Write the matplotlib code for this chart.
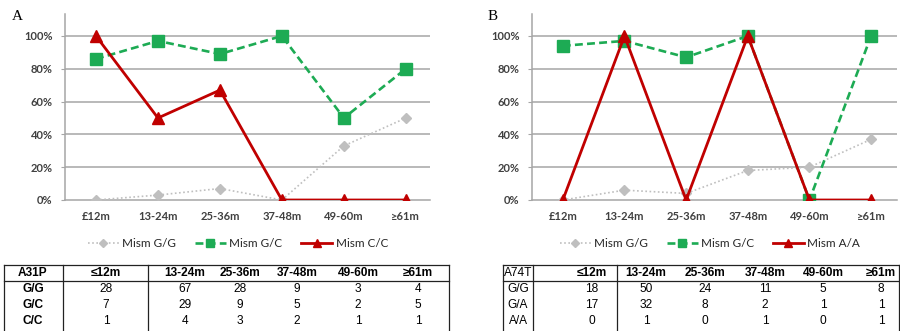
import matplotlib
matplotlib.use("Agg")
import matplotlib.pyplot as plt
from matplotlib.lines import Line2D
import numpy as np

# chart data (percent of mismatches per age group)
age_labels = ["£12m", "13-24m", "25-36m", "37-48m", "49-60m", "≥61m"]

a_gg = [0, 3, 7, 0, 33, 50]
a_gc = [86, 97, 89, 100, 50, 80]
a_cc = [100, 50, 67, 0, 0, 0]

b_gg = [0, 6, 4, 18, 20, 37]
b_gc = [94, 97, 87, 100, 0, 100]
b_aa = [0, 100, 0, 100, 0, 0]

# table data
tab_cols = ["≤12m", "13-24m", "25-36m", "37-48m", "49-60m", "≥61m"]
a_rows = ["G/G", "G/C", "C/C"]
a_counts = [[28, 67, 28, 9, 3, 4],
            [7, 29, 9, 5, 2, 5],
            [1, 4, 3, 2, 1, 1]]
b_rows = ["G/G", "G/A", "A/A"]
b_counts = [[18, 50, 24, 11, 5, 8],
            [17, 32, 8, 2, 1, 1],
            [0, 1, 0, 1, 0, 1]]

GRAY = "#BFBFBF"
GREEN = "#1DAB54"
RED = "#C00000"
TXT = "#404040"
TICKFONT = ["Lato", "DejaVu Sans"]

W, H = 900, 331
fig = plt.figure(figsize=(9, 3.31), dpi=100)


def fx(px):
    return px / W


def fy(py):
    return 1 - py / H


def panel(left, right, xmax, gg, gc, third, label, lab_x):
    ax = fig.add_axes([fx(left), fy(200), fx(right - left), fy(14) - fy(200)])
    x = np.arange(len(age_labels))
    ax.plot(x, gg, color=GRAY, ls=(0, (1, 1.5)), lw=1.2, marker="D",
            ms=5, mfc=GRAY, mec=GRAY, zorder=3)
    ax.plot(x, gc, color=GREEN, ls=(0, (3, 1.6)), lw=1.9, marker="s",
            ms=8, mfc=GREEN, mec=GREEN, zorder=4)
    ax.plot(x, third, color=RED, ls="-", lw=2.0, marker="^",
            ms=8, mfc=RED, mec=RED, zorder=5)
    ax.set_xlim(-0.5, xmax)
    ax.set_ylim(0, 113.4)
    ax.set_yticks([0, 20, 40, 60, 80, 100])
    ax.set_yticklabels(["0%", "20%", "40%", "60%", "80%", "100%"])
    ax.set_xticks(x)
    ax.set_xticklabels(age_labels)
    for t in ax.get_xticklabels() + ax.get_yticklabels():
        t.set_family(TICKFONT)
        t.set_fontweight("bold")
        t.set_fontsize(8)
        t.set_color(TXT)
    ax.tick_params(axis="x", length=0, pad=8)
    ax.tick_params(axis="y", length=3, color="#A6A6A6", pad=6)
    for yv in [20, 40, 60, 80, 100]:
        ax.axhline(yv, color="#A6A6A6", lw=1.1, zorder=1)
    for s in ["top", "right"]:
        ax.spines[s].set_visible(False)
    ax.spines["left"].set_color("#A6A6A6")
    ax.spines["bottom"].set_color("#A6A6A6")
    ax.spines["left"].set_linewidth(1.1)
    ax.spines["bottom"].set_linewidth(1.1)
    ax.set_facecolor("none")
    fig.text(fx(lab_x), fy(17), label, family="Liberation Serif",
             fontsize=11, ha="center", va="center")
    return ax


panel(65, 430, 5.39, a_gg, a_gc, a_cc, "A", 17)
panel(532, 897, 5.42, b_gg, b_gc, b_aa, "B", 493)


def legend(cx, third_name):
    handles = [
        Line2D([], [], color=GRAY, ls=(0, (1, 1.5)), lw=1.2, marker="D", ms=4,
               mfc=GRAY, mec=GRAY),
        Line2D([], [], color=GREEN, ls=(0, (3, 1.6)), lw=1.9, marker="s", ms=5.5,
               mfc=GREEN, mec=GREEN),
        Line2D([], [], color=RED, ls="-", lw=2.0, marker="^", ms=5.5,
               mfc=RED, mec=RED),
    ]
    fig.legend(handles, ["Mism G/G", "Mism G/C", third_name], ncol=3,
               loc="center", bbox_to_anchor=(fx(cx), fy(244)), frameon=False,
               prop={"family": TICKFONT, "size": 8.5}, handlelength=2.6,
               handletextpad=0.3, columnspacing=1.6, labelcolor="#262626")


legend(238, "Mism C/C")
legend(710, "Mism A/A")

# tables drawn in pixel coordinates on an overlay axes
tab = fig.add_axes([0, 0, 1, 1], zorder=-1)
tab.set_xlim(0, W)
tab.set_ylim(H, 0)
tab.axis("off")

row_y = [273, 289, 305, 321]


def table(name, rows, counts, vlines, col_x, bold_all):
    x0, x1 = vlines[0], vlines[-1]
    tab.plot([x0, x1], [265, 265], color="#222222", lw=0.9)
    tab.plot([x0, x1], [281, 281], color="#222222", lw=0.9)
    for v in vlines:
        tab.plot([v, v], [265, 331], color="#222222", lw=0.9)
    font = ["Liberation Sans", "DejaVu Sans"]
    fs = 8.6
    tab.text(col_x[0], row_y[0], name, ha="center", va="center", family=font,
             fontsize=fs, fontweight="bold" if bold_all else "normal")
    for j, c in enumerate(tab_cols):
        tab.text(col_x[j + 1], row_y[0], c, ha="center", va="center",
                 family=font, fontsize=fs, fontweight="bold")
    for i, r in enumerate(rows):
        tab.text(col_x[0], row_y[i + 1], r, ha="center", va="center",
                 family=font, fontsize=fs,
                 fontweight="bold" if bold_all else "normal")
        for j, v in enumerate(counts[i]):
            tab.text(col_x[j + 1], row_y[i + 1], str(v), ha="center",
                     va="center", family=font, fontsize=fs)


table("A31P", a_rows, a_counts, [4, 63, 148, 449],
      [33, 106, 185, 240, 297, 358, 418], True)
table("A74T", b_rows, b_counts, [503, 533, 617, 899],
      [518, 592, 646, 705, 765, 823, 881], False)

fig.savefig("out.png", dpi=100)
